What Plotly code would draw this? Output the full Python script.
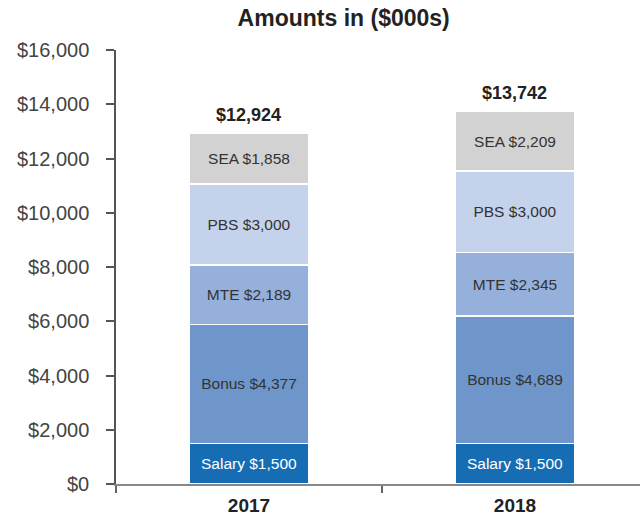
import plotly.graph_objects as go

years = ["2017", "2018"]
series_names = ["Salary", "Bonus", "MTE", "PBS", "SEA"]
salary = [1500, 1500]
bonus = [4377, 4689]
mte = [2189, 2345]
pbs = [3000, 3000]
sea = [1858, 2209]
totals = [12924, 13742]
y_ticks = [0, 2000, 4000, 6000, 8000, 10000, 12000, 14000, 16000]

series_values = [salary, bonus, mte, pbs, sea]
colors = ["#166db3", "#6f96cb", "#94b0db", "#c4d2eb", "#d2d2d2"]
text_colors = ["#ffffff", "#333333", "#333333", "#333333", "#333333"]
FONT = "Liberation Sans, Arial"

fig = go.Figure()
for name, vals, c, tc in zip(series_names, series_values, colors, text_colors):
    fig.add_trace(go.Bar(
        x=years, y=vals, name=name,
        marker=dict(color=c, line=dict(color="white", width=1.5)),
        width=0.45,
        text=[f"{name} ${v:,}" for v in vals],
        textposition="inside", insidetextanchor="middle",
        textfont=dict(size=15.5, color=tc, family=FONT),
        hoverinfo="skip",
    ))

for i, t in enumerate(totals):
    fig.add_annotation(
        x=i, y=t, xref="x", yref="y", text=f"<b>${t:,}</b>",
        showarrow=False, yanchor="bottom", yshift=6,
        font=dict(size=18, color="#222222", family=FONT),
    )

fig.update_layout(
    barmode="stack",
    width=640, height=522,
    margin=dict(l=116, r=0, t=50, b=38),
    paper_bgcolor="white", plot_bgcolor="white",
    showlegend=False,
    uniformtext=dict(minsize=15, mode="show"),
    title=dict(text="<b>Amounts in ($000s)</b>", x=0.537, xanchor="center",
               y=0.966, yanchor="middle",
               font=dict(size=23, color="#222222", family=FONT)),
    font=dict(family=FONT),
)
fig.update_yaxes(
    range=[0, 16000], tickvals=y_ticks,
    ticktext=[f"${v:,}" for v in y_ticks],
    showgrid=False, zeroline=False,
    showline=True, linecolor="#555555", linewidth=1.5,
    ticks="outside", ticklen=8, tickcolor="#555555", tickwidth=1.5,
    ticklabelstandoff=13,
    tickfont=dict(size=20, color="#444444"),
)
fig.update_xaxes(
    type="category",
    range=[-0.5, 1.47],
    showline=True, linecolor="#888888", linewidth=2,
    ticks="outside", tickson="boundaries", ticklen=7, tickcolor="#666666", tickwidth=1.5,
    ticklabelstandoff=3,
    tickfont=dict(size=19, color="#222222"),
    tickvals=years, ticktext=[f"<b>{y}</b>" for y in years],
    showgrid=False,
)

fig.write_html("out.html")
